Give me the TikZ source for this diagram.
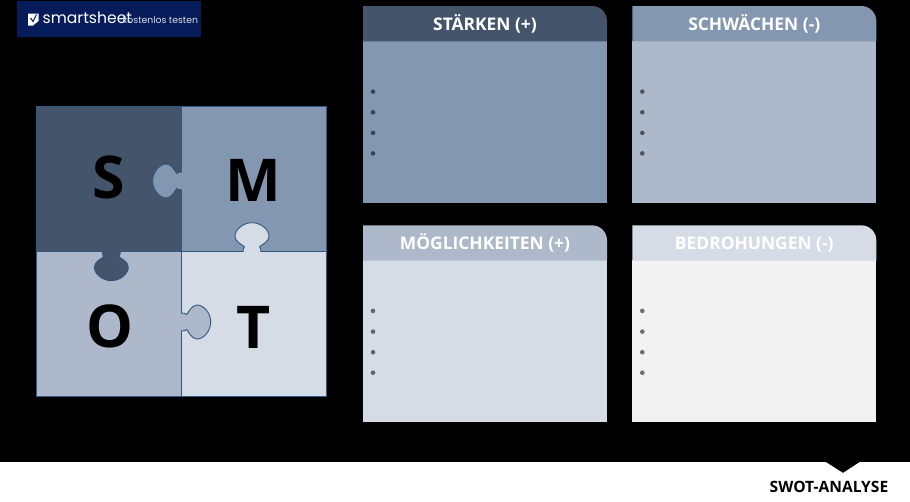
\documentclass[tikz,border=0pt]{standalone}
\usepackage{fontspec}
\setmainfont{Open Sans}
\newfontfamily\logofont{Poppins}
\usepackage{tikz}
\usetikzlibrary{positioning}
\definecolor{slate}{HTML}{44546A}
\definecolor{steel}{HTML}{8497B0}
\definecolor{haze}{HTML}{ADB9CA}
\definecolor{mist}{HTML}{D6DCE5}
\definecolor{paper}{HTML}{F2F2F2}
\definecolor{edgeblue}{HTML}{2F5882}
\definecolor{logonavy}{HTML}{061C5A}

% one puzzle tab, points along +x from the origin
\newcommand{\puzzletab}[4]{
    \begin{scope}[shift={(#2,#3)},rotate=#4]
        \fill[#1] (-1,-8) rectangle (1,8);
        \filldraw[fill=#1,draw=edgeblue,line width=.9pt]
            (0,-9) .. controls (2,-9) and (4,-8.5) .. (5,-7.5)
            .. controls (7,-10) and (10,-17) .. (15.5,-17)
            .. controls (22,-17) and (29,-9) .. (29,0)
            .. controls (29,9) and (22,17) .. (15.5,17)
            .. controls (10,17) and (7,10) .. (5,7.5)
            .. controls (4,8.5) and (2,9) .. (0,9);
    \end{scope}
}

\tikzset{
    piece/.style={draw=edgeblue,line width=.9pt},
    letter/.style={font=\fontsize{59}{59}\selectfont\bfseries,text=black,anchor=base,inner sep=0pt},
    head text/.style={font=\fontsize{17.4}{18}\selectfont\bfseries,inner sep=0pt,anchor=base},
    dot/.style={circle,fill=#1,draw=none,minimum size=4.6pt,inner sep=0pt}
}

\begin{document}
\begin{tikzpicture}[x=1pt,y=-1pt]

    \fill[black] (0,0) rectangle (910,501);
    \useasboundingbox (0,0) rectangle (910,501);

    % logo
    \fill[logonavy] (17.3,1) rectangle (201,37.3);
    \fill[white] (28,13.5) -- (38.5,13.5) -- (38.5,21) -- (33,25.5) -- (28,25.5) -- cycle;
    \draw[logonavy,line width=1.1pt] (30.5,18) -- (33,21.5) -- (36.5,14.5);
    \node[text=white,anchor=base west,inner sep=0pt,font=\logofont\fontsize{15.6}{16}\selectfont] (logo) at (42.5,23) {smartsheet};
    \node[text=white!85!logonavy,anchor=base west,inner sep=0pt,font=\logofont\fontsize{9.3}{10}\selectfont] (trial) at (122.5,23) {kostenlos testen};

    % puzzle
    \path[fill=slate] (36.7,106.7) rectangle (181.7,251.7);
    \path[fill=steel] (181.7,106.7) rectangle (326,251.7);
    \path[fill=haze] (36.7,251.7) rectangle (181.7,396);
    \path[fill=mist] (181.7,251.7) rectangle (326,396);
    \draw[piece] (36.7,106.7) rectangle (326,396);
    \draw[piece] (181.7,106.7) -- (181.7,396);
    \draw[piece] (36.7,251.7) -- (326,251.7);

    \puzzletab{steel}{181.7}{181}{180}
    \puzzletab{mist}{252}{251.7}{90}
    \puzzletab{slate}{111.3}{251.7}{-90}
    \puzzletab{haze}{181.7}{322}{0}

    \node[letter] (s) at (109,198.6) {S};
    \node[letter] (m) at (253,201.7) {M};
    \node[letter] (o) at (110,347.6) {O};
    \node[letter] (t) at (254,348) {T};

    % panels
    \foreach \px/\py/\hcol/\bcol/\tcol/\title/\pname in {
        363/6/slate/steel/white/{STÄRKEN (+)}/strengths,
        632.3/6/steel/haze/white/{SCHWÄCHEN (-)}/weaknesses,
        363/225.3/haze/mist/white/{MÖGLICHKEITEN (+)}/chances,
        632.3/225.3/mist/paper/white/{BEDROHUNGEN (-)}/threats}
    {
        \fill[\bcol] (\px,\py+35) rectangle (\px+244,\py+197);
        \fill[\hcol] (\px,\py+35.3) |- (\px+229,\py) [rounded corners=0pt]
            arc[start angle=90,end angle=0,x radius=15,y radius=-15] -- (\px+244,\py+35.3) -- cycle;
        \node[head text,text=\tcol] (\pname) at (\px+122,\py+24.4) {\title};
        \foreach \dy/\dname in {85.6/a,106.3/b,126.9/c,147.4/d}
            \node[dot=black!50!\bcol!90!black] (\pname-\dname) at (\px+10,\py+\dy) {};
    }

    % footer
    \fill[white] (0,462) rectangle (910,501);
    \fill[black] (826,462) -- (859.5,462) -- (843,472.8) -- cycle;
    \node[inner sep=0pt,anchor=base,font=\fontsize{15.6}{16}\selectfont\bfseries,text=black] (footer) at (829,492.3) {SWOT-ANALYSE};

\end{tikzpicture}
\end{document}
